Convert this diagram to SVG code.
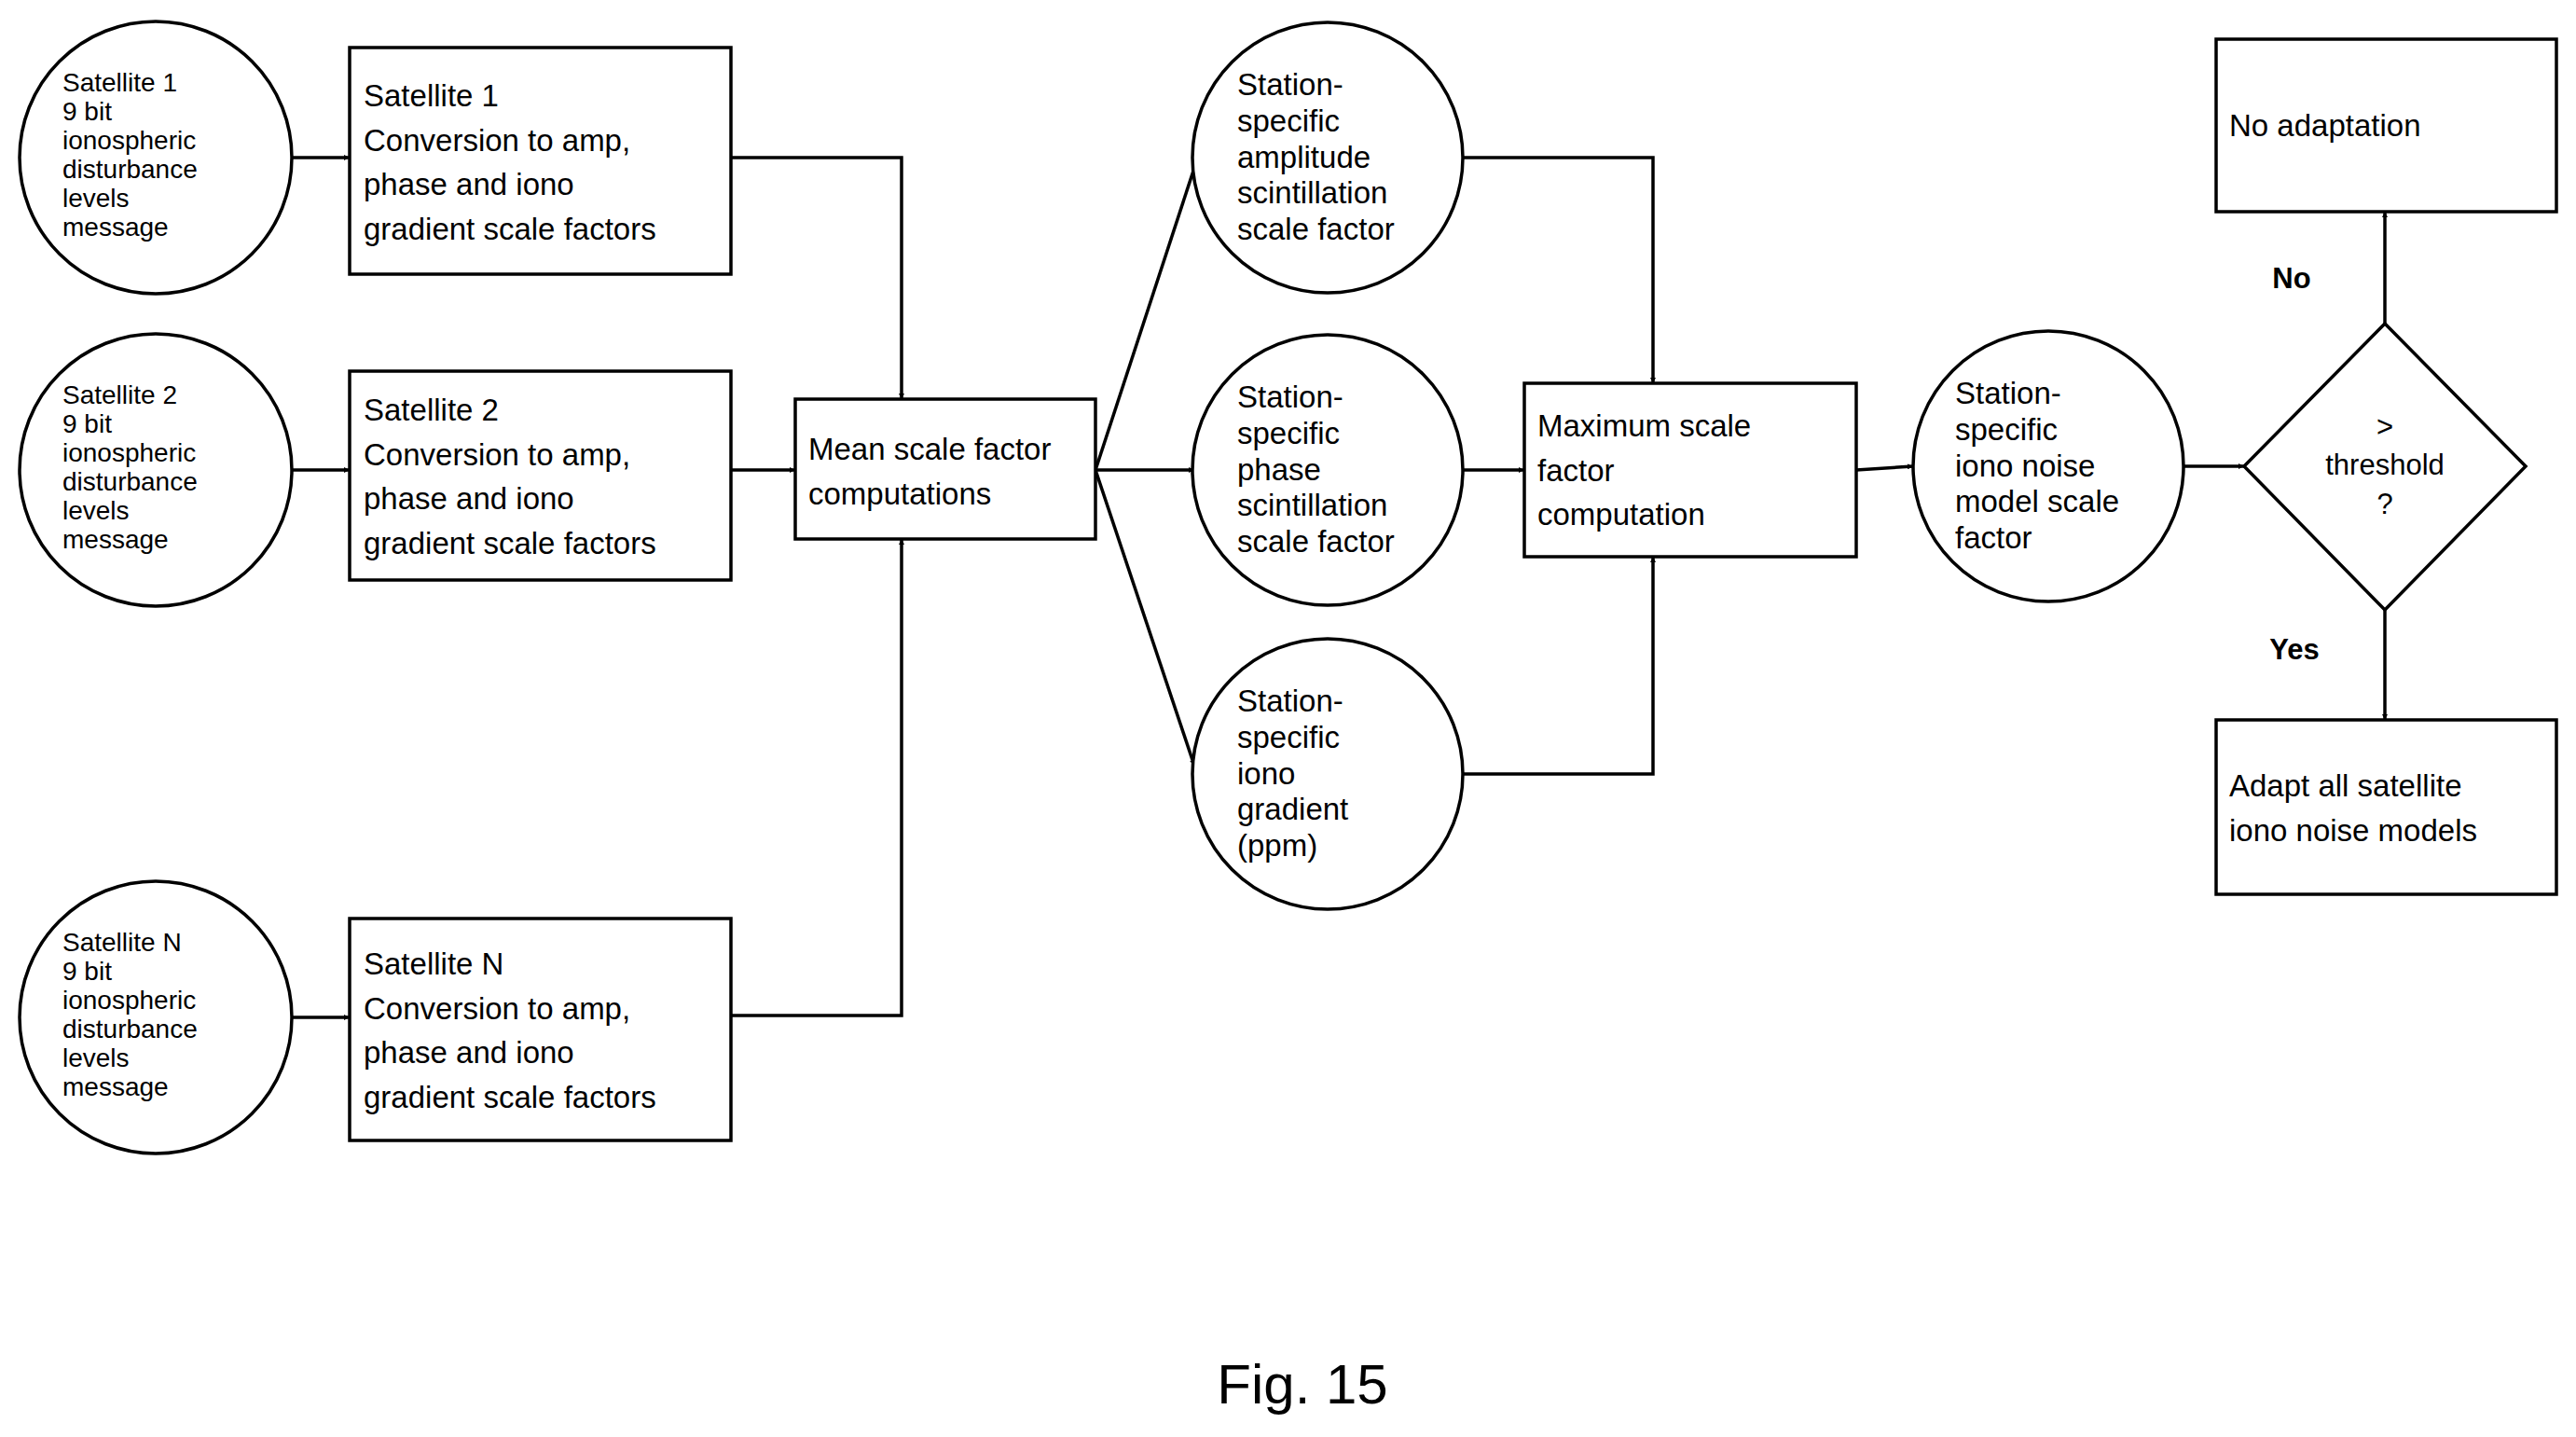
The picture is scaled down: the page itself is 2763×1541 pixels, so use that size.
<svg xmlns="http://www.w3.org/2000/svg" width="2763" height="1541" viewBox="0 0 2763 1541">
<style>
.s{fill:#fff;stroke:#000;stroke-width:3.5}
text{font-family:"Liberation Sans",Arial,sans-serif;fill:#000}
.a{font-size:28px}
.b{font-size:33px}
.c{font-size:31px;text-anchor:middle}
.l{stroke:#000;stroke-width:3.5;fill:none;marker-end:url(#ar)}
</style>
<defs><marker id="ar" viewBox="0 0 10 10" refX="10" refY="5" markerWidth="6" markerHeight="6" markerUnits="userSpaceOnUse" orient="auto"><path d="M0,0L10,5L0,10z" fill="#000"/></marker></defs>
<rect width="2763" height="1541" fill="#fff"/>
<g id="connectors">
<path class="l" d="M312,169H375" style="marker-end:url(#ar)"/>
<path class="l" d="M312,504H375"/>
<path class="l" d="M312,1091H375"/>
<path class="l" d="M784,169H967V428"/>
<path class="l" d="M784,504H853"/>
<path class="l" d="M784,1089H967V578"/>
<path class="l" d="M1175,504L1283,174"/>
<path class="l" d="M1175,504H1281"/>
<path class="l" d="M1175,504L1281,821"/>
<path class="l" d="M1568,169H1773V411"/>
<path class="l" d="M1568,504H1635"/>
<path class="l" d="M1568,830H1773V597"/>
<path class="l" d="M1991,504L2052,500"/>
<path class="l" d="M2342,500H2407"/>
<path class="l" d="M2558,347V227"/>
<path class="l" d="M2558,654V772"/>
<text x="2458" y="309" class="c" style="font-weight:bold">No</text>
<text x="2461" y="707" class="c" style="font-weight:bold">Yes</text>
</g>
<g id="sat1"><circle class="s" cx="167" cy="169" r="146"/><text class="a" x="67" y="98">Satellite 1<tspan x="67" dy="31">9 bit</tspan><tspan x="67" dy="31">ionospheric</tspan><tspan x="67" dy="31">disturbance</tspan><tspan x="67" dy="31">levels</tspan><tspan x="67" dy="31">message</tspan></text></g>
<g id="sat2"><circle class="s" cx="167" cy="504" r="146"/><text class="a" x="67" y="433">Satellite 2<tspan x="67" dy="31">9 bit</tspan><tspan x="67" dy="31">ionospheric</tspan><tspan x="67" dy="31">disturbance</tspan><tspan x="67" dy="31">levels</tspan><tspan x="67" dy="31">message</tspan></text></g>
<g id="satN"><circle class="s" cx="167" cy="1091" r="146"/><text class="a" x="67" y="1020">Satellite N<tspan x="67" dy="31">9 bit</tspan><tspan x="67" dy="31">ionospheric</tspan><tspan x="67" dy="31">disturbance</tspan><tspan x="67" dy="31">levels</tspan><tspan x="67" dy="31">message</tspan></text></g>
<g id="conv1"><rect class="s" x="375" y="51" width="409" height="243"/><text class="b" x="390" y="114">Satellite 1<tspan x="390" dy="47.6">Conversion to amp,</tspan><tspan x="390" dy="47.6">phase and iono</tspan><tspan x="390" dy="47.6">gradient scale factors</tspan></text></g>
<g id="conv2"><rect class="s" x="375" y="398" width="409" height="224"/><text class="b" x="390" y="451">Satellite 2<tspan x="390" dy="47.6">Conversion to amp,</tspan><tspan x="390" dy="47.6">phase and iono</tspan><tspan x="390" dy="47.6">gradient scale factors</tspan></text></g>
<g id="convN"><rect class="s" x="375" y="985" width="409" height="238"/><text class="b" x="390" y="1045">Satellite N<tspan x="390" dy="47.6">Conversion to amp,</tspan><tspan x="390" dy="47.6">phase and iono</tspan><tspan x="390" dy="47.6">gradient scale factors</tspan></text></g>
<g id="mean"><rect class="s" x="853" y="428" width="322" height="150"/><text class="b" x="867" y="493">Mean scale factor<tspan x="867" dy="48">computations</tspan></text></g>
<g id="amp"><circle class="s" cx="1424" cy="169" r="145"/><text class="b" x="1327" y="102">Station-<tspan x="1327" dy="38.8">specific</tspan><tspan x="1327" dy="38.8">amplitude</tspan><tspan x="1327" dy="38.8">scintillation</tspan><tspan x="1327" dy="38.8">scale factor</tspan></text></g>
<g id="phase"><circle class="s" cx="1424" cy="504" r="145"/><text class="b" x="1327" y="437">Station-<tspan x="1327" dy="38.8">specific</tspan><tspan x="1327" dy="38.8">phase</tspan><tspan x="1327" dy="38.8">scintillation</tspan><tspan x="1327" dy="38.8">scale factor</tspan></text></g>
<g id="grad"><circle class="s" cx="1424" cy="830" r="145"/><text class="b" x="1327" y="763">Station-<tspan x="1327" dy="38.8">specific</tspan><tspan x="1327" dy="38.8">iono</tspan><tspan x="1327" dy="38.8">gradient</tspan><tspan x="1327" dy="38.8">(ppm)</tspan></text></g>
<g id="max"><rect class="s" x="1635" y="411" width="356" height="186"/><text class="b" x="1649" y="468">Maximum scale<tspan x="1649" dy="47.6">factor</tspan><tspan x="1649" dy="47.6">computation</tspan></text></g>
<g id="ionomodel"><circle class="s" cx="2197" cy="500" r="145"/><text class="b" x="2097" y="433">Station-<tspan x="2097" dy="38.8">specific</tspan><tspan x="2097" dy="38.8">iono noise</tspan><tspan x="2097" dy="38.8">model scale</tspan><tspan x="2097" dy="38.8">factor</tspan></text></g>
<g id="decision"><path class="s" d="M2558,347L2709,500L2558,654L2407,500Z"/><text class="c" x="2558" y="468">&gt;<tspan x="2558" dy="41">threshold</tspan><tspan x="2558" dy="42">?</tspan></text></g>
<g id="noadapt"><rect class="s" x="2377" y="42" width="365" height="185"/><text class="b" x="2391" y="146">No adaptation</text></g>
<g id="adapt"><rect class="s" x="2377" y="772" width="365" height="187"/><text class="b" x="2391" y="854">Adapt all satellite<tspan x="2391" dy="48">iono noise models</tspan></text></g>
<text x="1397" y="1505" style="font-size:60px;text-anchor:middle">Fig. 15</text>
</svg>
